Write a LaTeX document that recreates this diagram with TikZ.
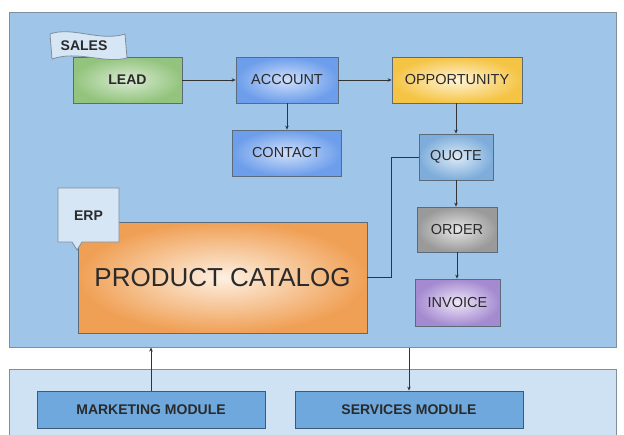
\documentclass[tikz,border=0pt]{standalone}
\usepackage{fontspec}
\setmainfont{Liberation Sans}
\usetikzlibrary{arrows.meta}
\definecolor{panelblue}{HTML}{9FC5E8}
\definecolor{panelline}{HTML}{7F8F9E}
\definecolor{lowpanel}{HTML}{CFE2F3}
\definecolor{modfill}{HTML}{6FA8DC}
\definecolor{modline}{HTML}{3D5A78}
\definecolor{boxline}{HTML}{5B6B7A}
\definecolor{txt}{HTML}{2A2A2A}
\definecolor{tagfill}{HTML}{D6E6F5}
\definecolor{greenin}{HTML}{D9EAD3}
\definecolor{greenout}{HTML}{93C47D}
\definecolor{bluein}{HTML}{CFDFFA}
\definecolor{blueout}{HTML}{6D9EEB}
\definecolor{yelin}{HTML}{FFF4D6}
\definecolor{yelout}{HTML}{F5C445}
\definecolor{qin}{HTML}{DCEAF7}
\definecolor{qout}{HTML}{7EADDB}
\definecolor{grayin}{HTML}{E6E6E6}
\definecolor{grayout}{HTML}{9A9A9A}
\definecolor{purin}{HTML}{EEE6F8}
\definecolor{purout}{HTML}{A48AD0}
\definecolor{orin}{HTML}{FDF0E2}
\definecolor{orout}{HTML}{F0A055}
\tikzset{
  box/.style={draw=boxline, line width=0.8pt, text=txt, font=\fontsize{14.5}{16}\selectfont, minimum height=46pt, inner sep=0pt},
  modbox/.style={draw=modline, line width=0.8pt, fill=modfill, text=txt, font=\bfseries\fontsize{14}{16}\selectfont, minimum width=228pt, minimum height=37pt, inner sep=0pt},
  conn/.style={draw=black!80, line width=0.7pt},
  arr/.style={conn, -{Stealth[length=4pt,width=3.5pt]}},
  tag/.style={draw=panelline, line width=0.8pt, fill=tagfill},
  tagtext/.style={text=txt, font=\bfseries\fontsize{14}{16}\selectfont, inner sep=0pt},
}
\begin{document}
\begin{tikzpicture}[x=1pt,y=-1pt]
\useasboundingbox (0,0) rectangle (624,434);
\fill[white] (0,0) rectangle (624,434);
% panels
\node[draw=panelline, line width=1pt, fill=panelblue, minimum width=607pt, minimum height=335pt, inner sep=0pt] (panel) at (312.5,179.5) {};
\fill[lowpanel] (9,440) rectangle (616,369);
\draw[panelline, line width=1pt] (9,440) -- (9,369) -- (616,369) -- (616,440);
% boxes
\node[box, inner color=greenin, outer color=greenout, minimum width=109pt, font=\bfseries\fontsize{14}{16}\selectfont] (lead) at (127.5,80) {LEAD};
\node[box, inner color=bluein, outer color=blueout, minimum width=102pt] (account) at (287,80) {ACCOUNT};
\node[box, inner color=bluein, outer color=blueout, minimum width=109pt] (contact) at (286.5,153) {CONTACT};
\node[box, inner color=yelin, outer color=yelout, minimum width=130pt] (opp) at (457,80) {OPPORTUNITY};
\node[box, inner color=qin, outer color=qout, minimum width=74pt] (quote) at (456,157) {QUOTE};
\node[box, inner color=grayin, outer color=grayout, minimum width=80pt, minimum height=45pt] (order) at (457,229.5) {ORDER};
\node[box, inner color=purin, outer color=purout, minimum width=85pt, minimum height=47pt] (invoice) at (457.5,302.5) {INVOICE};
\node[box, inner color=orin, outer color=orout, minimum width=289pt, minimum height=111pt, font=\fontsize{26}{30}\selectfont] (catalog) at (222.5,277.5) {PRODUCT CATALOG};
% tags
\path[tag] (50,34) .. controls (72,26) and (100,42) .. (125,34) -- (127,58) .. controls (104,64) and (78,50) .. (52,59) -- cycle;
\node[tagtext] (sales) at (84,46) {SALES};
\path[tag] (58,188) -- (119,188) -- (119,242) -- (82,242) -- (77,250) -- (72,242) -- (58,242) -- cycle;
\node[tagtext] (erp) at (88.5,216) {ERP};
% modules
\node[modbox] (mkt) at (151,409.5) {MARKETING MODULE};
\node[modbox] (svc) at (409,409.5) {SERVICES MODULE};
% connectors
\draw[arr] (lead) -- (account);
\draw[arr] (account) -- (account |- contact.north);
\draw[arr] (account) -- (opp);
\draw[arr] (opp.south -| quote) -- (quote.north);
\draw[arr] (quote) -- (quote |- order.north);
\draw[arr] (order) -- (order |- invoice.north);
\draw[conn] (quote.west) -- ++(-27,0) |- (catalog.east);
\draw[arr] (mkt.north) -- (mkt.north |- panel.south);
\draw[arr] (svc.north |- panel.south) -- (svc.north);
\end{tikzpicture}
\end{document}
